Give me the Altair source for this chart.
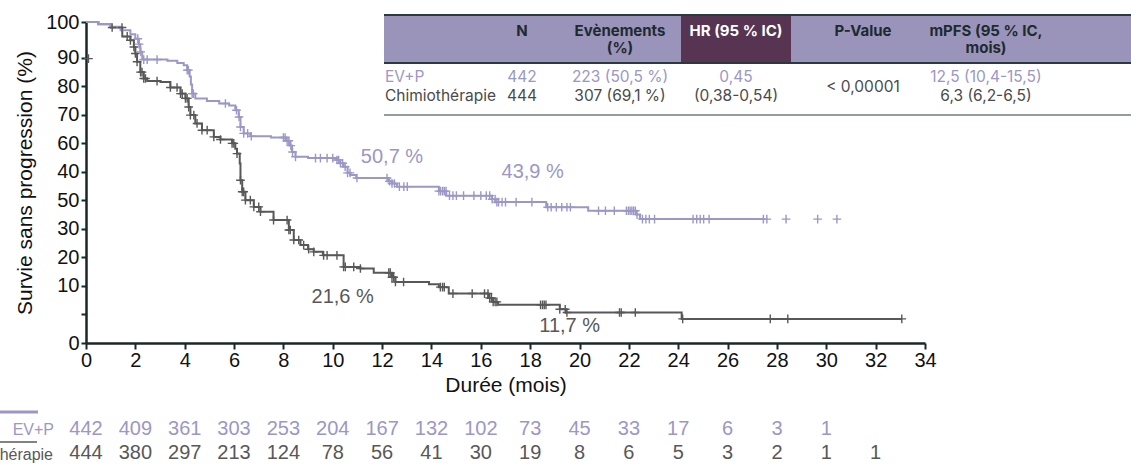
import altair as alt
import pandas as pd

# ---------------- data ----------------
evp_months = [0, 0.5, 1.0, 1.4, 1.8, 2.0, 2.14, 2.2, 2.28, 3.3, 3.7, 3.96, 4.1, 4.2, 4.25,
              4.3, 4.43, 4.9, 5.4, 5.8, 6.05, 6.19, 6.26, 6.39, 6.66, 7.5, 8.1, 8.25, 8.35, 8.49,
              9.0, 10.17, 10.3, 10.44, 10.6, 10.71, 10.95, 12.25, 12.4, 12.6, 14.3, 14.6, 16.45,
              16.6, 18.65, 20.35, 22.3, 22.45, 27.5]
evp_surv = [100, 99.4, 98.5, 97.4, 96.2, 94.8, 93.1, 90.7, 88.3, 87.9, 87.2, 86.5, 85.0, 83.0, 80.5,
            77.7, 76.2, 75.4, 74.6, 74.0, 72.5, 70.4, 67.3, 65.3, 64.4, 64.0, 63.0, 61.5, 59.5, 58.0,
            57.6, 57.0, 56.0, 54.9, 53.0, 52.3, 51.4, 50.4, 49.7, 48.7, 47.3, 45.9, 44.8,
            43.9, 42.3, 41.2, 40.0, 38.6, 38.6]

chemo_months = [0, 0.5, 1.0, 1.47, 1.8, 1.94, 2.0, 2.07, 2.2, 2.34, 2.48, 3.02, 3.42, 3.83, 4.03,
                4.16, 4.23, 4.43, 4.7, 5.18, 5.45, 5.92, 6.05, 6.12, 6.23, 6.26, 6.33, 6.46, 6.8, 7.07,
                7.6, 8.22, 8.42, 8.69, 9.0, 9.23, 9.6, 10.44, 11.12, 11.66, 12.4, 12.54, 13.9, 14.3,
                14.7, 16.3, 16.5, 16.7, 19.2, 19.45, 24.14, 33.06]
chemo_surv = [100, 99.3, 98.3, 95.5, 94.3, 92.2, 90.2, 87.6, 84.4, 82.4, 81.6, 81.3, 79.6, 77.7, 76.2,
              73.5, 71.0, 68.4, 66.3, 64.2, 63.4, 62.2, 60.5, 59.0, 55.9, 50.7, 47.1, 44.5, 42.4, 40.9,
              38.3, 35.2, 32.1, 30.5, 29.2, 28.4, 27.3, 23.7, 23.2, 21.9, 20.5, 19.0, 18.3, 17.4,
              15.4, 14.0, 12.8, 11.9, 10.5, 9.5, 7.5, 7.5]

evp_censor = [2.1, 2.15, 2.22, 2.34, 2.48, 2.88, 4.1, 4.15, 4.3, 4.35, 5.65, 6.1, 6.2, 6.26, 6.39,
              6.55, 6.7, 8.0, 8.07, 8.15, 8.22, 8.3, 8.37, 8.49, 9.3, 9.5, 9.77, 10.0, 10.17, 10.24,
              10.31, 10.4, 10.5, 10.6, 10.7, 10.98, 12.2, 12.3, 12.4, 12.5, 12.7, 12.88, 13.02,
              14.3, 14.37, 14.45, 14.52, 14.59, 14.73, 14.87, 15.01, 15.3, 15.72, 16.0, 16.22,
              16.36, 16.46, 16.58, 16.65, 16.72, 16.86, 17.0, 17.43, 18.07, 18.71, 18.85, 19.06,
              19.28, 19.49, 19.63, 20.77, 21.05, 21.41, 21.9, 21.98, 22.05, 22.12, 22.19, 22.26,
              22.33, 22.55, 22.69, 22.83, 23.04, 24.6, 24.75, 24.89, 25.03, 25.25, 27.45, 27.59,
              28.37, 29.65, 30.43]
chemo_censor = [1.06, 1.46, 1.67, 1.8, 1.94, 2.0, 2.07, 2.21, 2.27, 2.34, 2.41, 2.88, 3.42, 3.69,
                3.83, 3.9, 4.03, 4.1, 4.16, 4.23, 4.37, 4.5, 4.7, 4.91, 5.18, 5.45, 5.92, 5.99, 6.12,
                6.26, 6.33, 6.39, 6.46, 6.66, 6.8, 7.0, 7.07, 7.6, 8.15, 8.22, 8.28, 8.42, 8.62,
                8.82, 9.02, 9.23, 9.63, 9.77, 10.17, 10.44, 10.51, 10.85, 11.12, 12.27, 12.33,
                12.4, 12.47, 12.54, 12.87, 14.36, 14.45, 14.52, 14.87, 15.65, 16.15, 16.29, 16.36,
                16.43, 16.5, 16.58, 16.65, 18.42, 18.5, 18.57, 18.64, 19.2, 19.42, 19.49, 21.62,
                21.69, 22.26, 24.18, 27.73, 28.44, 33.06]
stray_month = [0.1]
stray_surv = [88.6]

risk_months = [0, 2, 4, 6, 8, 10, 12, 14, 16, 18, 20, 22, 24, 26, 28, 30, 32]
evp_risk = [442, 409, 361, 303, 253, 204, 167, 132, 102, 73, 45, 33, 17, 6, 3, 1]
chemo_risk = [444, 380, 297, 213, 124, 78, 56, 41, 30, 19, 8, 6, 5, 3, 2, 1, 1]

x_ticks = [0, 2, 4, 6, 8, 10, 12, 14, 16, 18, 20, 22, 24, 26, 28, 30, 32, 34]
y_tick_values = [0, 8.88, 17.76, 26.64, 35.52, 44.4, 53.28, 62.16, 71.04, 79.92, 88.8, 100]
y_tick_labels = ["0", "", "10", "20", "30", "50", "40", "60", "70", "80", "90", "100"]

ann_text = ["50,7 %", "43,9 %", "21,6 %", "11,7 %"]
ann_month = [12.4, 18.1, 10.4, 19.6]
ann_surv = [57.8, 53.2, 14.4, 5.2]
ann_arm = ["evp", "evp", "chemo", "chemo"]

tbl_header1 = ["N", "Evènements", "HR (95 % IC)", "P-Value", "mPFS (95 % IC,"]
tbl_header2 = ["", "(%)", "", "", "mois)"]
tbl_row_evp = ["EV+P", "442", "223 (50,5 %)", "0,45", "12,5 (10,4-15,5)"]
tbl_row_chemo = ["Chimiothérapie", "444", "307 (69,1 %)", "(0,38-0,54)", "6,3 (6,2-6,5)"]
tbl_pvalue = "< 0,00001"

# ---------------- styles / layout ----------------
C_EVP = "#9b97c6"
C_CHEMO = "#585858"
C_AXIS = "#1b2626"
FONT = "Liberation Sans"
TFONT = "Inter"
PLUS = "M-1,0L1,0M0,-1L0,1"
W, H = 839, 321
OX, OY = 86, 22  # plot origin in page pixels


def surv_at(ts, ss, t):
    v = ss[0]
    for ti, si in zip(ts, ss):
        if ti <= t:
            v = si
    return v


evp_df = pd.DataFrame({"month": evp_months, "surv": evp_surv})
chemo_df = pd.DataFrame({"month": chemo_months, "surv": chemo_surv})
evp_c = pd.DataFrame({"month": evp_censor,
                      "surv": [surv_at(evp_months, evp_surv, t) for t in evp_censor]})
chemo_c = pd.DataFrame({"month": chemo_censor + stray_month,
                        "surv": [surv_at(chemo_months, chemo_surv, t) for t in chemo_censor] + stray_surv})

x_scale = alt.Scale(domain=[0, 34], nice=False, zero=False)
y_scale = alt.Scale(domain=[0, 100], nice=False)

label_expr = "''"
for v, l in reversed(list(zip(y_tick_values, y_tick_labels))):
    label_expr = f"datum.value == {v} ? '{l}' : ({label_expr})"

x_axis = alt.Axis(values=x_ticks, title="Durée (mois)", grid=False, labelFont=FONT, titleFont=FONT,
                  labelFontSize=20, titleFontSize=21, titleFontWeight="normal", labelColor="#111",
                  titleColor="#111", domainColor=C_AXIS, domainWidth=2.5, tickColor=C_AXIS,
                  tickWidth=2, tickSize=6, labelPadding=1, titlePadding=4, labelFlush=False,
                  labelOverlap=False)
y_axis = alt.Axis(values=y_tick_values, labelExpr=label_expr, title="Survie sans progression (%)",
                  grid=False, labelFont=FONT, titleFont=FONT, labelFontSize=20, titleFontSize=21,
                  titleFontWeight="normal", labelColor="#111", titleColor="#111",
                  domainColor=C_AXIS, domainWidth=2.5, tickColor=C_AXIS, tickWidth=2, tickSize=5,
                  labelPadding=2, labelFlush=False, labelOverlap=False, titleX=-61, titleY=H / 2,
                  titleAlign="center", titleBaseline="middle", titleAngle=-90)

X = alt.X("month:Q", scale=x_scale, axis=x_axis)
Y = alt.Y("surv:Q", scale=y_scale, axis=y_axis)

layers = []
layers.append(alt.Chart(chemo_df).mark_line(interpolate="step-after", color=C_CHEMO, strokeWidth=2)
              .encode(x=X, y=Y))
layers.append(alt.Chart(evp_df).mark_line(interpolate="step-after", color=C_EVP, strokeWidth=2)
              .encode(x=X, y=Y))
layers.append(alt.Chart(chemo_c).mark_point(shape=PLUS, size=75, filled=False, color=C_CHEMO,
                                             strokeWidth=1.4, opacity=1).encode(x=X, y=Y))
layers.append(alt.Chart(evp_c).mark_point(shape=PLUS, size=75, filled=False, color=C_EVP,
                                           strokeWidth=1.4, opacity=1).encode(x=X, y=Y))

ann_df = pd.DataFrame({"month": ann_month, "surv": ann_surv, "text": ann_text, "arm": ann_arm})
for arm, col in (("evp", C_EVP), ("chemo", C_CHEMO)):
    layers.append(alt.Chart(ann_df[ann_df.arm == arm]).mark_text(font=FONT, fontSize=20, color=col)
                  .encode(x=X, y=Y, text="text:N"))

# numbers at risk
evp_r = pd.DataFrame({"month": risk_months[:len(evp_risk)], "n": evp_risk})
chemo_r = pd.DataFrame({"month": risk_months[:len(chemo_risk)], "n": chemo_risk})
ROW1, ROW2 = 429 - OY, 453 - OY
layers.append(alt.Chart(evp_r).mark_text(font=FONT, fontSize=20, color=C_EVP)
              .encode(x=X, y=alt.value(ROW1), text="n:N"))
layers.append(alt.Chart(chemo_r).mark_text(font=FONT, fontSize=20, color=C_CHEMO)
              .encode(x=X, y=alt.value(ROW2), text="n:N"))

dummy = pd.DataFrame({"k": [0]})


def rect(x1, x2, y1, y2, col):
    return alt.Chart(dummy).mark_rect(color=col).encode(
        x=alt.value(x1 - OX), x2=alt.value(x2 - OX), y=alt.value(y1 - OY), y2=alt.value(y2 - OY))


def hline(x1, x2, y, col, w):
    return alt.Chart(dummy).mark_rule(color=col, strokeWidth=w).encode(
        x=alt.value(x1 - OX), x2=alt.value(x2 - OX), y=alt.value(y - OY))


def label(txt, x, y, col, size, font=FONT, weight="normal", align="center"):
    return alt.Chart(dummy).mark_text(text=txt, color=col, fontSize=size, font=font,
                                      fontWeight=weight, align=align, baseline="middle").encode(
        x=alt.value(x - OX), y=alt.value(y - OY))


# legend of the at-risk rows
layers.append(hline(0, 38, 412, C_EVP, 3))
layers.append(hline(0, 37, 442, C_CHEMO, 1.5))
layers.append(label("EV+P", 54, ROW1 + OY + 1, C_EVP, 16, align="right"))
layers.append(label("Chimiothérapie", 53, ROW2 + OY + 2, C_CHEMO, 16, align="right"))

# summary table
layers.append(rect(384, 1131, 15, 63, "#9a94ba"))
layers.append(rect(681, 791, 15, 63, "#563452"))
layers.append(hline(384, 1131, 15, "#2b3a3f", 2))
layers.append(hline(384, 1131, 63, "#2b3a3f", 2))
layers.append(hline(384, 1131, 115, "#2b3a3f", 1.2))

col_x = [522, 620, 736, 863, 986]
for i, (h1, h2) in enumerate(zip(tbl_header1, tbl_header2)):
    col = "#ffffff" if i == 2 else "#1d2a30"
    layers.append(label(h1, col_x[i], 31, col, 15, TFONT, "bold"))
    if h2:
        layers.append(label(h2, col_x[i], 48, col, 15, TFONT, "bold"))
for row, y, col in ((tbl_row_evp, 77, C_EVP), (tbl_row_chemo, 96, "#4a4a4a")):
    layers.append(label(row[0], 385, y, col, 15.5, TFONT, "normal", "left"))
    layers.append(label(row[1], col_x[0], y, col, 15.5, TFONT))
    layers.append(label(row[2], col_x[1], y, col, 15.5, TFONT))
    layers.append(label(row[3], col_x[2], y, col, 15.5, TFONT))
    layers.append(label(row[4], col_x[4], y, col, 15.5, TFONT))
layers.append(label(tbl_pvalue, col_x[3], 87, "#4a4a4a", 15.5, TFONT))

chart = alt.layer(*layers).properties(
    width=W, height=H,
    autosize=alt.AutoSizeParams(type="none"),
    padding={"left": OX, "top": OY, "right": 1131 - OX - W, "bottom": 466 - OY - H},
).configure_view(stroke=None).configure_axis(labelOverlap=False)

chart.save("out.html", embed_options={"renderer": "svg", "actions": False})
